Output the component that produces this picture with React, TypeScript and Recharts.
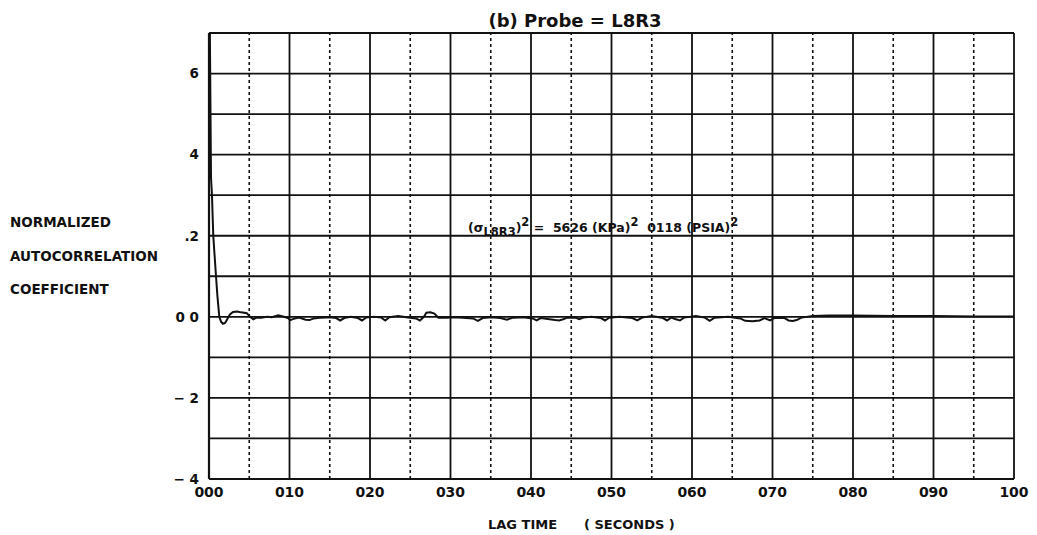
import React from "react";
import { LineChart, Line, XAxis, YAxis, CartesianGrid, ReferenceLine } from "recharts";

const lagSeconds = [
  0, 0.1, 0.25, 0.37, 0.53, 0.7, 0.87, 1.05, 1.28, 1.5,
  1.73, 2.0, 2.3, 2.6, 2.98, 3.5, 4.0, 4.7, 5.1, 5.5,
  5.9, 6.5, 7.2, 7.8, 8.6, 9.3, 9.8, 10.1, 10.5, 11.2,
  12.0, 12.5, 13.0, 14.0, 15.0, 15.8, 16.3, 16.8, 17.6, 18.5,
  19.0, 19.5, 20.5, 21.4, 21.9, 22.4, 23.5, 24.5, 25.7, 26.2,
  26.7, 27.0, 27.5, 28.0, 28.5, 29.5, 30.5, 31.5, 32.8, 33.4,
  34.0, 35.0, 36.2, 37.0, 37.8, 39.0, 40.2, 40.7, 41.2, 42.3,
  43.0, 43.5, 44.0, 44.5, 45.5, 46.0, 46.5, 47.5, 48.7, 49.2,
  49.7, 51.0, 52.6, 53.2, 53.8, 55.0, 56.4, 56.9, 57.4, 58.0,
  58.5, 59.0, 60.5, 61.6, 62.2, 62.8, 64.5, 66.0, 66.6, 67.5,
  68.4, 69.0, 69.7, 70.3, 71.5, 72.0, 72.5, 73.0, 73.6, 75.0,
  77, 80, 85, 90, 95, 100,
];

const autocorrelation = [
  1.0, 0.72, 0.343, 0.3, 0.2, 0.15, 0.1, 0.05, 0.0, -0.012,
  -0.017, -0.015, -0.005, 0.006, 0.012, 0.013, 0.011, 0.009, 0.0, -0.006,
  -0.002, -0.002, 0.0, -0.001, 0.004, 0.0, -0.003, -0.008, -0.005, -0.002,
  -0.007, -0.008, -0.004, -0.002, -0.001, -0.003, -0.009, -0.003, 0.0, -0.003,
  -0.009, -0.002, 0.0, -0.002, -0.009, -0.001, 0.002, -0.001, -0.004, -0.009,
  0.0, 0.01, 0.011, 0.008, -0.002, -0.002, -0.001, -0.002, -0.004, -0.01,
  -0.003, -0.001, -0.003, -0.007, -0.002, -0.001, -0.004, -0.009, -0.003, -0.006,
  -0.008, -0.009, -0.006, -0.002, -0.002, -0.006, -0.002, 0.0, -0.003, -0.009,
  -0.002, 0.0, -0.003, -0.009, -0.002, 0.002, -0.003, -0.009, -0.002, -0.006,
  -0.009, -0.002, 0.002, -0.002, -0.01, -0.002, 0.0, -0.004, -0.01, -0.011,
  -0.009, -0.003, -0.009, -0.002, -0.003, -0.009, -0.01, -0.008, -0.002, 0.002,
  0.003, 0.003, 0.002, 0.002, 0.001, 0.001,
];

const xTicks = [0, 10, 20, 30, 40, 50, 60, 70, 80, 90, 100];
const xTickLabels = ["000", "010", "020", "030", "040", "050", "060", "070", "080", "090", "100"];
const xMidLines = [5, 15, 25, 35, 45, 55, 65, 75, 85, 95];

const yTicks = [-0.4, -0.3, -0.2, -0.1, 0, 0.1, 0.2, 0.3, 0.4, 0.5, 0.6, 0.7];
const yTickLabels = ["\u2212 4", "", "\u2212 2", "", "0 0", "", ".2", "", "4", "", "6", ""];

const data = lagSeconds.map((t, i) => ({ lag: t, r: autocorrelation[i] }));

const FONT = "'DejaVu Sans', 'Liberation Sans', sans-serif";
const INK = "#111";

export default function App() {
  const txt: React.CSSProperties = {
    position: "absolute",
    fontFamily: FONT,
    fontWeight: 700,
    color: INK,
    whiteSpace: "nowrap",
    lineHeight: 1,
  };
  return (
    <div style={{ position: "absolute", left: 0, top: 0, width: 1037, height: 535, background: "#fff" }}>
      <LineChart width={1037} height={535} data={data} margin={{ top: 33, right: 23, bottom: 0, left: 0 }}>
        <CartesianGrid stroke={INK} strokeWidth={1.8} horizontal vertical />
        {xMidLines.map((v) => (
          <ReferenceLine key={v} x={v} stroke={INK} strokeWidth={1.6} strokeDasharray="3 3" />
        ))}
        <XAxis
          dataKey="lag"
          type="number"
          domain={[0, 100]}
          ticks={xTicks}
          height={56}
          tickLine={false}
          tickSize={4}
          tickMargin={4}
          axisLine={{ stroke: INK, strokeWidth: 2.2 }}
          tickFormatter={(v: number) => xTickLabels[xTicks.indexOf(v)] ?? ""}
          tick={{ fill: INK, fontFamily: FONT, fontWeight: 700, fontSize: 14 }}
          interval={0}
        />
        <YAxis
          type="number"
          domain={[-0.4, 0.7]}
          ticks={yTicks}
          allowDataOverflow
          width={209}
          tickLine={false}
          tickSize={5}
          tickMargin={5}
          axisLine={{ stroke: INK, strokeWidth: 2.2 }}
          interval={0}
          tickFormatter={(v: number) => {
            const i = yTicks.findIndex((t) => Math.abs(t - v) < 1e-9);
            return i >= 0 ? yTickLabels[i] : "";
          }}
          tick={{ fill: INK, fontFamily: FONT, fontWeight: 700, fontSize: 13.5 }}
        />
        <Line
          type="linear"
          dataKey="r"
          stroke={INK}
          strokeWidth={2}
          dot={false}
          isAnimationActive={false}
        />
      </LineChart>

      <div style={{ ...txt, left: 0, width: 1150, top: 12, fontSize: 18, textAlign: "center" }}>
        (b) Probe = L8R3
      </div>

      <div style={{ ...txt, left: 10, top: 216, fontSize: 13.5 }}>NORMALIZED</div>
      <div style={{ ...txt, left: 10, top: 250, fontSize: 13.5 }}>AUTOCORRELATION</div>
      <div style={{ ...txt, left: 10, top: 283, fontSize: 13.5 }}>COEFFICIENT</div>

      <div style={{ ...txt, left: 488, top: 518, fontSize: 13 }}>LAG TIME</div>
      <div style={{ ...txt, left: 584, top: 518, fontSize: 13 }}>( SECONDS )</div>

      <div style={{ ...txt, left: 468, top: 217, fontSize: 12.5 }}>
        (σ<sub style={{ fontSize: 11.5, verticalAlign: -4 }}>L8R3</sub>)
        <sup style={{ fontSize: 11.5, verticalAlign: 6 }}>2</sup>
        {" = \u00a05626 (KPa)"}
        <sup style={{ fontSize: 11.5, verticalAlign: 6 }}>2</sup>
        {"\u00a0\u00a00118 (PSIA)"}
        <sup style={{ fontSize: 11.5, verticalAlign: 6 }}>2</sup>
      </div>
    </div>
  );
}
